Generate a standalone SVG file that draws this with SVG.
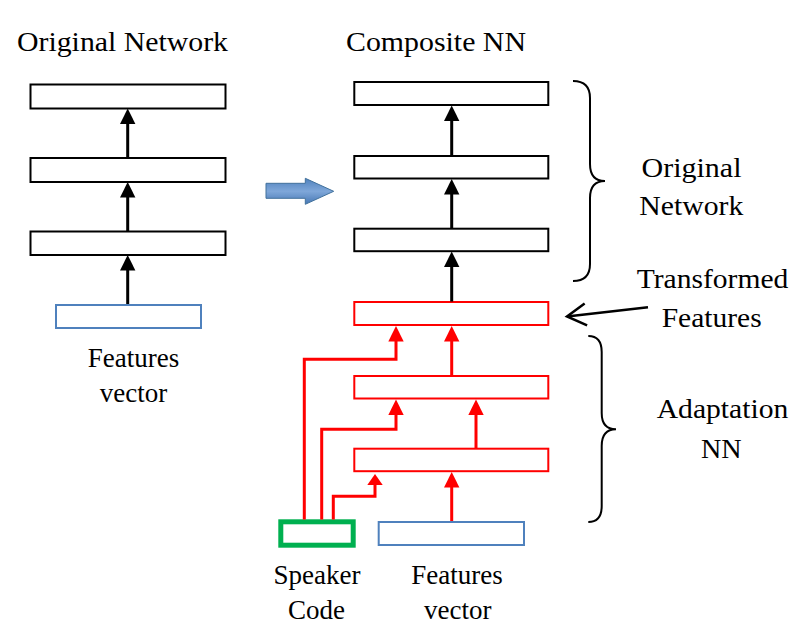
<svg xmlns="http://www.w3.org/2000/svg" width="805" height="644" viewBox="0 0 805 644">
<style>
text{font-family:'Liberation Serif','DejaVu Serif',serif;fill:#000}
.t28{font-size:28px}
.t27{font-size:27px;text-anchor:middle}
.blk{fill:#fff;stroke:#000;stroke-width:2}
.red{fill:#fff;stroke:#ff0000;stroke-width:2}
.feat{fill:#fff;stroke:#4f81bd;stroke-width:2}
.spk{fill:#fff;stroke:#00b050;stroke-width:5}
.cb{fill:none;stroke:#000;stroke-width:3}
.cr{fill:none;stroke:#ff0000;stroke-width:3}
.brace{fill:none;stroke:#000;stroke-width:2}
</style>
<defs>
<marker id="ab" markerUnits="userSpaceOnUse" viewBox="0 0 16 16" markerWidth="16" markerHeight="16" refX="3" refY="8" orient="auto"><path d="M0,0.3 L15.5,8 L0,15.7 z" fill="#000"/></marker>
<marker id="ar" markerUnits="userSpaceOnUse" viewBox="0 0 16 16" markerWidth="16" markerHeight="16" refX="3" refY="8" orient="auto"><path d="M0,0.3 L15.5,8 L0,15.7 z" fill="#ff0000"/></marker>
<marker id="ars" markerUnits="userSpaceOnUse" viewBox="0 0 12 16" markerWidth="12" markerHeight="16" refX="2" refY="8" orient="auto"><path d="M0,0.3 L11,8 L0,15.7 z" fill="#ff0000"/></marker>
<marker id="ao" markerUnits="userSpaceOnUse" viewBox="0 0 24 26" markerWidth="24" markerHeight="26" refX="21" refY="13" orient="auto"><path d="M2,2 L21,13 L2,24" fill="none" stroke="#000" stroke-width="2.5"/></marker>
<linearGradient id="bg" x1="0" y1="0" x2="0" y2="1">
<stop offset="0" stop-color="#4f81bd"/>
<stop offset="0.5" stop-color="#7fa7d9"/>
<stop offset="1" stop-color="#4677b4"/>
</linearGradient>
</defs>

<g id="titles">
<text class="t28" font-family="Liberation Serif, serif" x="17" y="51" textLength="211" lengthAdjust="spacingAndGlyphs">Original Network</text>
<text class="t28" font-family="Liberation Serif, serif" x="346" y="51" textLength="180" lengthAdjust="spacingAndGlyphs">Composite NN</text>
</g>

<g id="orig-l1"><rect class="blk" x="30.5" y="84.5" width="195" height="24"/></g>
<g id="orig-l2"><rect class="blk" x="30.5" y="158" width="195" height="24"/></g>
<g id="orig-l3"><rect class="blk" x="30.5" y="231.5" width="195" height="23.5"/></g>
<g id="orig-features"><rect class="feat" x="56" y="305" width="145" height="23"/>
<text class="t27" font-family="Liberation Serif, serif" x="133.5" y="366.7">Features</text>
<text class="t27" font-family="Liberation Serif, serif" x="133.5" y="402">vector</text>
</g>

<g id="transfer-arrow"><polygon points="266,183.3 305.3,183.3 305.3,178.3 333.7,191.3 305.3,204.3 305.3,198.3 266,198.3" fill="url(#bg)" stroke="#41719c" stroke-width="1"/></g>

<g id="comp-l1"><rect class="blk" x="354.3" y="82" width="194" height="23"/></g>
<g id="comp-l2"><rect class="blk" x="354.3" y="156" width="194" height="22.5"/></g>
<g id="comp-l3"><rect class="blk" x="354.3" y="228.7" width="194" height="22.5"/></g>
<g id="transformed"><rect class="red" x="354.3" y="302" width="194" height="23"/></g>
<g id="adapt-l2"><rect class="red" x="354.3" y="376" width="194" height="22.5"/></g>
<g id="adapt-l1"><rect class="red" x="354.3" y="448.7" width="194" height="22.5"/></g>
<g id="speaker-code"><rect class="spk" x="280.8" y="521.8" width="72.4" height="23.4"/>
<text class="t27" font-family="Liberation Serif, serif" x="317" y="584">Speaker</text>
<text class="t27" font-family="Liberation Serif, serif" x="316.5" y="619">Code</text>
</g>
<g id="comp-features"><rect class="feat" x="378.7" y="522" width="145.3" height="23"/>
<text class="t27" font-family="Liberation Serif, serif" x="457" y="584">Features</text>
<text class="t27" font-family="Liberation Serif, serif" x="457.7" y="619">vector</text>
</g>

<g id="labels">
<path class="brace" d="M573,81 Q590,81 590,98 V164 Q590,181 605,181 Q590,181 590,198 V264 Q590,281 573,281"/>
<text class="t28" font-family="Liberation Serif, serif" x="641.5" y="176.7" textLength="100" lengthAdjust="spacingAndGlyphs">Original</text>
<text class="t28" font-family="Liberation Serif, serif" x="639.3" y="215" textLength="104" lengthAdjust="spacingAndGlyphs">Network</text>
<text class="t28" font-family="Liberation Serif, serif" x="636.7" y="287.7" textLength="151.6" lengthAdjust="spacingAndGlyphs">Transformed</text>
<text class="t28" font-family="Liberation Serif, serif" x="661.7" y="326.7" textLength="100" lengthAdjust="spacingAndGlyphs">Features</text>
<path class="brace" d="M588.3,336 Q601.7,336 601.7,352 V413 Q601.7,429.3 616,429.3 Q601.7,429.3 601.7,446 V506 Q601.7,522 588.3,522"/>
<text class="t28" font-family="Liberation Serif, serif" x="656.7" y="418.3" textLength="131.6" lengthAdjust="spacingAndGlyphs">Adaptation</text>
<text class="t28" font-family="Liberation Serif, serif" x="701" y="458.3" textLength="40.7" lengthAdjust="spacingAndGlyphs">NN</text>
</g>

<g id="connectors">
<line class="cb" x1="127.7" y1="304" x2="127.7" y2="267.5" marker-end="url(#ab)"/>
<line class="cb" x1="127.7" y1="231" x2="127.7" y2="194.5" marker-end="url(#ab)"/>
<line class="cb" x1="127.7" y1="157.5" x2="127.7" y2="121" marker-end="url(#ab)"/>
<line class="cb" x1="451.7" y1="301.5" x2="451.7" y2="264" marker-end="url(#ab)"/>
<line class="cb" x1="451.7" y1="228" x2="451.7" y2="191.5" marker-end="url(#ab)"/>
<line class="cb" x1="451.7" y1="155.5" x2="451.7" y2="118" marker-end="url(#ab)"/>
<line class="cr" x1="451.7" y1="521" x2="451.7" y2="484.5" marker-end="url(#ar)"/>
<line class="cr" x1="476" y1="448" x2="476" y2="412" marker-end="url(#ar)"/>
<line class="cr" x1="451.7" y1="375.5" x2="451.7" y2="338.5" marker-end="url(#ar)"/>
<polyline class="cr" points="304.3,519.5 304.3,359.3 396,359.3 396,338.5" marker-end="url(#ar)"/>
<polyline class="cr" points="321.7,519.5 321.7,429.3 396,429.3 396,412" marker-end="url(#ar)"/>
<polyline class="cr" points="333.3,519.5 333.3,496.3 375,496.3 375,483" marker-end="url(#ars)"/>
<line x1="648" y1="307.3" x2="567" y2="316.5" stroke="#000" stroke-width="2.5" marker-end="url(#ao)"/>
</g>
</svg>
